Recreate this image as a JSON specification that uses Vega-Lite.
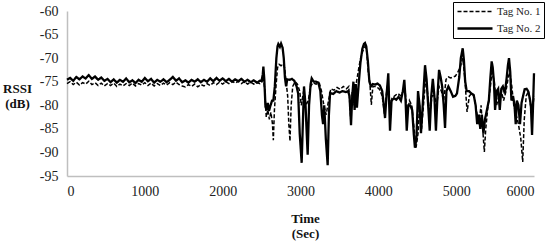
{
"$schema": "https://vega.github.io/schema/vega-lite/v6.json",
"width": 467, "height": 165,
"autosize": {"type": "none"},
"padding": {"left": 67, "top": 11, "right": 16, "bottom": 69},
"background": "white",
"config": {"view": {"stroke": null}, "font": "Liberation Serif",
 "axis": {"domainColor": "#bfbfbf", "domainWidth": 1.5, "ticks": false, "tickSize": 0, "grid": false, "labelFont": "Liberation Serif", "labelFontSize": 14, "labelColor": "#222222", "titleFont": "Liberation Serif", "titleFontSize": 13, "titleFontWeight": "bold", "titleColor": "#111111"}},
"data": {"values": [
{"t":0,"s":"Tag No. 2","v":-74.6},{"t":40,"s":"Tag No. 2","v":-74.2},{"t":80,"s":"Tag No. 2","v":-74.8},{"t":120,"s":"Tag No. 2","v":-74.0},{"t":160,"s":"Tag No. 2","v":-74.5},{"t":200,"s":"Tag No. 2","v":-73.9},{"t":240,"s":"Tag No. 2","v":-74.3},{"t":280,"s":"Tag No. 2","v":-73.6},{"t":320,"s":"Tag No. 2","v":-74.4},{"t":360,"s":"Tag No. 2","v":-73.9},{"t":400,"s":"Tag No. 2","v":-74.6},{"t":440,"s":"Tag No. 2","v":-74.1},{"t":480,"s":"Tag No. 2","v":-74.8},{"t":520,"s":"Tag No. 2","v":-74.4},{"t":560,"s":"Tag No. 2","v":-75.1},{"t":600,"s":"Tag No. 2","v":-74.5},{"t":640,"s":"Tag No. 2","v":-75.2},{"t":680,"s":"Tag No. 2","v":-74.6},{"t":720,"s":"Tag No. 2","v":-75.0},{"t":760,"s":"Tag No. 2","v":-74.3},{"t":800,"s":"Tag No. 2","v":-75.1},{"t":840,"s":"Tag No. 2","v":-74.7},{"t":880,"s":"Tag No. 2","v":-75.3},{"t":920,"s":"Tag No. 2","v":-74.6},{"t":960,"s":"Tag No. 2","v":-75.0},{"t":1000,"s":"Tag No. 2","v":-74.2},{"t":1040,"s":"Tag No. 2","v":-74.9},{"t":1080,"s":"Tag No. 2","v":-74.4},{"t":1120,"s":"Tag No. 2","v":-75.2},{"t":1160,"s":"Tag No. 2","v":-74.6},{"t":1200,"s":"Tag No. 2","v":-75.0},{"t":1240,"s":"Tag No. 2","v":-74.5},{"t":1280,"s":"Tag No. 2","v":-75.1},{"t":1320,"s":"Tag No. 2","v":-74.6},{"t":1360,"s":"Tag No. 2","v":-74.0},{"t":1400,"s":"Tag No. 2","v":-74.8},{"t":1440,"s":"Tag No. 2","v":-74.3},{"t":1480,"s":"Tag No. 2","v":-75.1},{"t":1520,"s":"Tag No. 2","v":-74.7},{"t":1560,"s":"Tag No. 2","v":-75.2},{"t":1600,"s":"Tag No. 2","v":-74.6},{"t":1640,"s":"Tag No. 2","v":-75.0},{"t":1680,"s":"Tag No. 2","v":-74.5},{"t":1720,"s":"Tag No. 2","v":-75.1},{"t":1760,"s":"Tag No. 2","v":-74.6},{"t":1800,"s":"Tag No. 2","v":-75.0},{"t":1840,"s":"Tag No. 2","v":-74.3},{"t":1880,"s":"Tag No. 2","v":-74.9},{"t":1920,"s":"Tag No. 2","v":-74.2},{"t":1960,"s":"Tag No. 2","v":-74.8},{"t":2000,"s":"Tag No. 2","v":-74.3},{"t":2040,"s":"Tag No. 2","v":-74.9},{"t":2080,"s":"Tag No. 2","v":-74.4},{"t":2120,"s":"Tag No. 2","v":-75.0},{"t":2160,"s":"Tag No. 2","v":-74.5},{"t":2200,"s":"Tag No. 2","v":-74.9},{"t":2240,"s":"Tag No. 2","v":-74.4},{"t":2280,"s":"Tag No. 2","v":-75.0},{"t":2320,"s":"Tag No. 2","v":-74.6},{"t":2360,"s":"Tag No. 2","v":-75.1},{"t":2400,"s":"Tag No. 2","v":-74.7},{"t":2440,"s":"Tag No. 2","v":-75.2},{"t":2480,"s":"Tag No. 2","v":-74.8},
{"t":2500,"s":"Tag No. 2","v":-74.8},{"t":2515,"s":"Tag No. 2","v":-73.5},{"t":2523,"s":"Tag No. 2","v":-71.8},{"t":2535,"s":"Tag No. 2","v":-74.5},{"t":2550,"s":"Tag No. 2","v":-80.3},{"t":2565,"s":"Tag No. 2","v":-81.0},{"t":2580,"s":"Tag No. 2","v":-79.5},{"t":2595,"s":"Tag No. 2","v":-81.2},{"t":2615,"s":"Tag No. 2","v":-80.0},{"t":2635,"s":"Tag No. 2","v":-79.0},{"t":2651,"s":"Tag No. 2","v":-79.0},{"t":2670,"s":"Tag No. 2","v":-76.0},{"t":2690,"s":"Tag No. 2","v":-70.0},{"t":2705,"s":"Tag No. 2","v":-67.5},{"t":2715,"s":"Tag No. 2","v":-67.0},{"t":2735,"s":"Tag No. 2","v":-67.6},{"t":2750,"s":"Tag No. 2","v":-66.9},{"t":2770,"s":"Tag No. 2","v":-67.8},{"t":2785,"s":"Tag No. 2","v":-70.0},{"t":2800,"s":"Tag No. 2","v":-74.1},{"t":2815,"s":"Tag No. 2","v":-76.0},{"t":2830,"s":"Tag No. 2","v":-74.5},{"t":2860,"s":"Tag No. 2","v":-74.6},{"t":2890,"s":"Tag No. 2","v":-74.4},{"t":2920,"s":"Tag No. 2","v":-74.8},{"t":2950,"s":"Tag No. 2","v":-76.0},{"t":2970,"s":"Tag No. 2","v":-77.5},{"t":2990,"s":"Tag No. 2","v":-86.0},{"t":3015,"s":"Tag No. 2","v":-92.2},{"t":3030,"s":"Tag No. 2","v":-84.0},{"t":3045,"s":"Tag No. 2","v":-76.0},{"t":3065,"s":"Tag No. 2","v":-80.0},{"t":3080,"s":"Tag No. 2","v":-86.0},{"t":3092,"s":"Tag No. 2","v":-90.5},{"t":3110,"s":"Tag No. 2","v":-80.0},{"t":3130,"s":"Tag No. 2","v":-75.5},{"t":3144,"s":"Tag No. 2","v":-74.3},{"t":3170,"s":"Tag No. 2","v":-75.0},{"t":3200,"s":"Tag No. 2","v":-75.0},{"t":3230,"s":"Tag No. 2","v":-75.2},{"t":3255,"s":"Tag No. 2","v":-77.0},{"t":3275,"s":"Tag No. 2","v":-82.0},{"t":3290,"s":"Tag No. 2","v":-84.0},{"t":3305,"s":"Tag No. 2","v":-80.0},{"t":3325,"s":"Tag No. 2","v":-87.0},{"t":3349,"s":"Tag No. 2","v":-92.7},{"t":3365,"s":"Tag No. 2","v":-82.0},{"t":3380,"s":"Tag No. 2","v":-77.4},{"t":3420,"s":"Tag No. 2","v":-77.6},{"t":3460,"s":"Tag No. 2","v":-77.0},{"t":3500,"s":"Tag No. 2","v":-77.3},{"t":3540,"s":"Tag No. 2","v":-77.0},{"t":3580,"s":"Tag No. 2","v":-77.2},{"t":3610,"s":"Tag No. 2","v":-77.0},{"t":3630,"s":"Tag No. 2","v":-78.0},{"t":3649,"s":"Tag No. 2","v":-84.2},{"t":3665,"s":"Tag No. 2","v":-78.0},{"t":3680,"s":"Tag No. 2","v":-75.0},{"t":3695,"s":"Tag No. 2","v":-81.0},{"t":3710,"s":"Tag No. 2","v":-75.5},{"t":3725,"s":"Tag No. 2","v":-80.5},{"t":3745,"s":"Tag No. 2","v":-76.0},{"t":3770,"s":"Tag No. 2","v":-71.0},{"t":3795,"s":"Tag No. 2","v":-68.0},{"t":3815,"s":"Tag No. 2","v":-67.0},{"t":3829,"s":"Tag No. 2","v":-66.8},{"t":3845,"s":"Tag No. 2","v":-67.5},{"t":3865,"s":"Tag No. 2","v":-70.5},{"t":3885,"s":"Tag No. 2","v":-75.0},{"t":3905,"s":"Tag No. 2","v":-76.0},{"t":3930,"s":"Tag No. 2","v":-75.5},{"t":3960,"s":"Tag No. 2","v":-75.6},{"t":3990,"s":"Tag No. 2","v":-75.4},{"t":4020,"s":"Tag No. 2","v":-75.8},{"t":4050,"s":"Tag No. 2","v":-77.0},{"t":4070,"s":"Tag No. 2","v":-80.0},{"t":4086,"s":"Tag No. 2","v":-82.7},{"t":4105,"s":"Tag No. 2","v":-78.0},{"t":4128,"s":"Tag No. 2","v":-73.2},{"t":4140,"s":"Tag No. 2","v":-80.0},{"t":4150,"s":"Tag No. 2","v":-85.4},{"t":4170,"s":"Tag No. 2","v":-79.0},{"t":4200,"s":"Tag No. 2","v":-78.5},{"t":4230,"s":"Tag No. 2","v":-78.8},{"t":4260,"s":"Tag No. 2","v":-78.2},{"t":4290,"s":"Tag No. 2","v":-79.0},{"t":4315,"s":"Tag No. 2","v":-77.0},{"t":4334,"s":"Tag No. 2","v":-74.6},{"t":4350,"s":"Tag No. 2","v":-79.0},{"t":4365,"s":"Tag No. 2","v":-85.4},{"t":4385,"s":"Tag No. 2","v":-80.0},{"t":4410,"s":"Tag No. 2","v":-80.0},{"t":4435,"s":"Tag No. 2","v":-81.0},{"t":4455,"s":"Tag No. 2","v":-86.0},{"t":4470,"s":"Tag No. 2","v":-89.0},{"t":4490,"s":"Tag No. 2","v":-87.0},{"t":4510,"s":"Tag No. 2","v":-77.0},{"t":4530,"s":"Tag No. 2","v":-80.0},{"t":4548,"s":"Tag No. 2","v":-85.9},{"t":4570,"s":"Tag No. 2","v":-80.0},{"t":4600,"s":"Tag No. 2","v":-71.5},{"t":4620,"s":"Tag No. 2","v":-74.5},{"t":4640,"s":"Tag No. 2","v":-80.0},{"t":4660,"s":"Tag No. 2","v":-85.4},{"t":4680,"s":"Tag No. 2","v":-78.0},{"t":4700,"s":"Tag No. 2","v":-74.4},{"t":4720,"s":"Tag No. 2","v":-78.0},{"t":4740,"s":"Tag No. 2","v":-85.4},{"t":4760,"s":"Tag No. 2","v":-78.0},{"t":4780,"s":"Tag No. 2","v":-72.5},{"t":4800,"s":"Tag No. 2","v":-74.0},{"t":4820,"s":"Tag No. 2","v":-76.0},{"t":4840,"s":"Tag No. 2","v":-80.0},{"t":4857,"s":"Tag No. 2","v":-84.8},{"t":4875,"s":"Tag No. 2","v":-77.0},{"t":4900,"s":"Tag No. 2","v":-76.0},{"t":4930,"s":"Tag No. 2","v":-77.0},{"t":4960,"s":"Tag No. 2","v":-78.2},{"t":4990,"s":"Tag No. 2","v":-78.0},{"t":5010,"s":"Tag No. 2","v":-77.5},{"t":5040,"s":"Tag No. 2","v":-74.0},{"t":5060,"s":"Tag No. 2","v":-70.0},{"t":5084,"s":"Tag No. 2","v":-67.9},{"t":5100,"s":"Tag No. 2","v":-70.5},{"t":5115,"s":"Tag No. 2","v":-74.8},{"t":5135,"s":"Tag No. 2","v":-77.0},{"t":5165,"s":"Tag No. 2","v":-77.0},{"t":5195,"s":"Tag No. 2","v":-77.5},{"t":5225,"s":"Tag No. 2","v":-77.8},{"t":5250,"s":"Tag No. 2","v":-80.0},{"t":5270,"s":"Tag No. 2","v":-84.0},{"t":5290,"s":"Tag No. 2","v":-82.0},{"t":5310,"s":"Tag No. 2","v":-85.0},{"t":5330,"s":"Tag No. 2","v":-82.0},{"t":5350,"s":"Tag No. 2","v":-86.0},{"t":5370,"s":"Tag No. 2","v":-83.0},{"t":5395,"s":"Tag No. 2","v":-81.0},{"t":5420,"s":"Tag No. 2","v":-79.0},{"t":5440,"s":"Tag No. 2","v":-74.0},{"t":5456,"s":"Tag No. 2","v":-70.7},{"t":5470,"s":"Tag No. 2","v":-72.0},{"t":5485,"s":"Tag No. 2","v":-75.0},{"t":5500,"s":"Tag No. 2","v":-81.0},{"t":5520,"s":"Tag No. 2","v":-77.0},{"t":5540,"s":"Tag No. 2","v":-76.5},{"t":5560,"s":"Tag No. 2","v":-81.0},{"t":5580,"s":"Tag No. 2","v":-76.5},{"t":5600,"s":"Tag No. 2","v":-76.0},{"t":5625,"s":"Tag No. 2","v":-77.5},{"t":5650,"s":"Tag No. 2","v":-74.0},{"t":5665,"s":"Tag No. 2","v":-71.5},{"t":5679,"s":"Tag No. 2","v":-70.0},{"t":5695,"s":"Tag No. 2","v":-73.0},{"t":5710,"s":"Tag No. 2","v":-79.0},{"t":5730,"s":"Tag No. 2","v":-78.0},{"t":5750,"s":"Tag No. 2","v":-80.0},{"t":5765,"s":"Tag No. 2","v":-84.0},{"t":5780,"s":"Tag No. 2","v":-79.0},{"t":5800,"s":"Tag No. 2","v":-80.0},{"t":5820,"s":"Tag No. 2","v":-84.0},{"t":5840,"s":"Tag No. 2","v":-79.5},{"t":5860,"s":"Tag No. 2","v":-78.0},{"t":5880,"s":"Tag No. 2","v":-76.6},{"t":5905,"s":"Tag No. 2","v":-76.5},{"t":5925,"s":"Tag No. 2","v":-77.0},{"t":5945,"s":"Tag No. 2","v":-78.5},{"t":5960,"s":"Tag No. 2","v":-80.0},{"t":5975,"s":"Tag No. 2","v":-86.3},{"t":5988,"s":"Tag No. 2","v":-80.0},{"t":6000,"s":"Tag No. 2","v":-73.2},
{"t":0,"s":"Tag No. 1","v":-75.4},{"t":40,"s":"Tag No. 1","v":-75.0},{"t":80,"s":"Tag No. 1","v":-75.6},{"t":120,"s":"Tag No. 1","v":-75.1},{"t":160,"s":"Tag No. 1","v":-75.7},{"t":200,"s":"Tag No. 1","v":-75.2},{"t":240,"s":"Tag No. 1","v":-75.5},{"t":280,"s":"Tag No. 1","v":-74.9},{"t":320,"s":"Tag No. 1","v":-75.6},{"t":360,"s":"Tag No. 1","v":-75.2},{"t":400,"s":"Tag No. 1","v":-75.8},{"t":440,"s":"Tag No. 1","v":-75.3},{"t":480,"s":"Tag No. 1","v":-75.9},{"t":520,"s":"Tag No. 1","v":-75.4},{"t":560,"s":"Tag No. 1","v":-75.8},{"t":600,"s":"Tag No. 1","v":-75.3},{"t":640,"s":"Tag No. 1","v":-76.0},{"t":680,"s":"Tag No. 1","v":-75.5},{"t":720,"s":"Tag No. 1","v":-75.9},{"t":760,"s":"Tag No. 1","v":-75.4},{"t":800,"s":"Tag No. 1","v":-75.8},{"t":840,"s":"Tag No. 1","v":-75.3},{"t":880,"s":"Tag No. 1","v":-75.9},{"t":920,"s":"Tag No. 1","v":-75.4},{"t":960,"s":"Tag No. 1","v":-75.7},{"t":1000,"s":"Tag No. 1","v":-75.2},{"t":1040,"s":"Tag No. 1","v":-75.8},{"t":1080,"s":"Tag No. 1","v":-75.3},{"t":1120,"s":"Tag No. 1","v":-75.9},{"t":1160,"s":"Tag No. 1","v":-75.4},{"t":1200,"s":"Tag No. 1","v":-75.8},{"t":1240,"s":"Tag No. 1","v":-75.3},{"t":1280,"s":"Tag No. 1","v":-75.7},{"t":1320,"s":"Tag No. 1","v":-75.2},{"t":1360,"s":"Tag No. 1","v":-75.6},{"t":1400,"s":"Tag No. 1","v":-75.1},{"t":1440,"s":"Tag No. 1","v":-75.6},{"t":1480,"s":"Tag No. 1","v":-75.9},{"t":1520,"s":"Tag No. 1","v":-76.1},{"t":1560,"s":"Tag No. 1","v":-75.6},{"t":1600,"s":"Tag No. 1","v":-76.0},{"t":1640,"s":"Tag No. 1","v":-75.5},{"t":1680,"s":"Tag No. 1","v":-76.1},{"t":1720,"s":"Tag No. 1","v":-75.6},{"t":1760,"s":"Tag No. 1","v":-75.9},{"t":1800,"s":"Tag No. 1","v":-75.4},{"t":1840,"s":"Tag No. 1","v":-75.8},{"t":1880,"s":"Tag No. 1","v":-75.2},{"t":1920,"s":"Tag No. 1","v":-75.6},{"t":1960,"s":"Tag No. 1","v":-75.1},{"t":2000,"s":"Tag No. 1","v":-75.5},{"t":2040,"s":"Tag No. 1","v":-75.0},{"t":2080,"s":"Tag No. 1","v":-75.4},{"t":2120,"s":"Tag No. 1","v":-74.9},{"t":2160,"s":"Tag No. 1","v":-75.3},{"t":2200,"s":"Tag No. 1","v":-74.9},{"t":2240,"s":"Tag No. 1","v":-75.4},{"t":2280,"s":"Tag No. 1","v":-75.0},{"t":2320,"s":"Tag No. 1","v":-75.5},{"t":2360,"s":"Tag No. 1","v":-75.1},{"t":2400,"s":"Tag No. 1","v":-75.5},{"t":2440,"s":"Tag No. 1","v":-75.2},{"t":2480,"s":"Tag No. 1","v":-75.4},
{"t":2500,"s":"Tag No. 1","v":-75.3},{"t":2520,"s":"Tag No. 1","v":-74.0},{"t":2540,"s":"Tag No. 1","v":-76.5},{"t":2560,"s":"Tag No. 1","v":-82.5},{"t":2580,"s":"Tag No. 1","v":-81.0},{"t":2600,"s":"Tag No. 1","v":-83.0},{"t":2620,"s":"Tag No. 1","v":-81.5},{"t":2640,"s":"Tag No. 1","v":-84.0},{"t":2651,"s":"Tag No. 1","v":-87.4},{"t":2665,"s":"Tag No. 1","v":-81.0},{"t":2685,"s":"Tag No. 1","v":-76.0},{"t":2705,"s":"Tag No. 1","v":-72.0},{"t":2725,"s":"Tag No. 1","v":-71.3},{"t":2750,"s":"Tag No. 1","v":-71.6},{"t":2775,"s":"Tag No. 1","v":-71.2},{"t":2795,"s":"Tag No. 1","v":-72.0},{"t":2815,"s":"Tag No. 1","v":-75.0},{"t":2835,"s":"Tag No. 1","v":-78.0},{"t":2850,"s":"Tag No. 1","v":-84.0},{"t":2865,"s":"Tag No. 1","v":-87.6},{"t":2880,"s":"Tag No. 1","v":-80.0},{"t":2900,"s":"Tag No. 1","v":-76.0},{"t":2930,"s":"Tag No. 1","v":-75.0},{"t":2960,"s":"Tag No. 1","v":-75.5},{"t":2990,"s":"Tag No. 1","v":-77.0},{"t":3010,"s":"Tag No. 1","v":-80.0},{"t":3040,"s":"Tag No. 1","v":-77.0},{"t":3070,"s":"Tag No. 1","v":-80.0},{"t":3100,"s":"Tag No. 1","v":-79.0},{"t":3130,"s":"Tag No. 1","v":-76.0},{"t":3160,"s":"Tag No. 1","v":-75.2},{"t":3200,"s":"Tag No. 1","v":-75.5},{"t":3240,"s":"Tag No. 1","v":-75.2},{"t":3270,"s":"Tag No. 1","v":-77.0},{"t":3300,"s":"Tag No. 1","v":-80.0},{"t":3330,"s":"Tag No. 1","v":-82.0},{"t":3360,"s":"Tag No. 1","v":-79.0},{"t":3390,"s":"Tag No. 1","v":-76.5},{"t":3430,"s":"Tag No. 1","v":-76.8},{"t":3470,"s":"Tag No. 1","v":-76.2},{"t":3510,"s":"Tag No. 1","v":-76.6},{"t":3550,"s":"Tag No. 1","v":-76.0},{"t":3590,"s":"Tag No. 1","v":-76.5},{"t":3620,"s":"Tag No. 1","v":-76.0},{"t":3645,"s":"Tag No. 1","v":-83.0},{"t":3665,"s":"Tag No. 1","v":-77.0},{"t":3690,"s":"Tag No. 1","v":-80.0},{"t":3720,"s":"Tag No. 1","v":-75.0},{"t":3750,"s":"Tag No. 1","v":-72.0},{"t":3770,"s":"Tag No. 1","v":-70.2},{"t":3800,"s":"Tag No. 1","v":-68.5},{"t":3830,"s":"Tag No. 1","v":-67.5},{"t":3850,"s":"Tag No. 1","v":-68.5},{"t":3870,"s":"Tag No. 1","v":-73.0},{"t":3890,"s":"Tag No. 1","v":-75.0},{"t":3910,"s":"Tag No. 1","v":-79.9},{"t":3930,"s":"Tag No. 1","v":-76.0},{"t":3970,"s":"Tag No. 1","v":-76.0},{"t":4010,"s":"Tag No. 1","v":-76.5},{"t":4050,"s":"Tag No. 1","v":-78.0},{"t":4080,"s":"Tag No. 1","v":-82.0},{"t":4100,"s":"Tag No. 1","v":-78.0},{"t":4125,"s":"Tag No. 1","v":-75.0},{"t":4150,"s":"Tag No. 1","v":-82.0},{"t":4175,"s":"Tag No. 1","v":-78.5},{"t":4210,"s":"Tag No. 1","v":-78.0},{"t":4250,"s":"Tag No. 1","v":-77.5},{"t":4290,"s":"Tag No. 1","v":-78.0},{"t":4320,"s":"Tag No. 1","v":-77.0},{"t":4345,"s":"Tag No. 1","v":-77.0},{"t":4370,"s":"Tag No. 1","v":-82.0},{"t":4400,"s":"Tag No. 1","v":-79.0},{"t":4430,"s":"Tag No. 1","v":-80.0},{"t":4460,"s":"Tag No. 1","v":-85.0},{"t":4484,"s":"Tag No. 1","v":-89.0},{"t":4510,"s":"Tag No. 1","v":-86.0},{"t":4530,"s":"Tag No. 1","v":-80.0},{"t":4555,"s":"Tag No. 1","v":-85.0},{"t":4580,"s":"Tag No. 1","v":-80.0},{"t":4610,"s":"Tag No. 1","v":-74.0},{"t":4630,"s":"Tag No. 1","v":-77.0},{"t":4660,"s":"Tag No. 1","v":-82.0},{"t":4690,"s":"Tag No. 1","v":-78.0},{"t":4720,"s":"Tag No. 1","v":-78.0},{"t":4750,"s":"Tag No. 1","v":-80.0},{"t":4780,"s":"Tag No. 1","v":-76.0},{"t":4810,"s":"Tag No. 1","v":-77.0},{"t":4840,"s":"Tag No. 1","v":-79.0},{"t":4870,"s":"Tag No. 1","v":-74.5},{"t":4900,"s":"Tag No. 1","v":-74.0},{"t":4930,"s":"Tag No. 1","v":-74.2},{"t":4960,"s":"Tag No. 1","v":-74.0},{"t":4990,"s":"Tag No. 1","v":-73.8},{"t":5020,"s":"Tag No. 1","v":-73.0},{"t":5050,"s":"Tag No. 1","v":-72.0},{"t":5085,"s":"Tag No. 1","v":-70.0},{"t":5110,"s":"Tag No. 1","v":-74.0},{"t":5140,"s":"Tag No. 1","v":-81.4},{"t":5170,"s":"Tag No. 1","v":-78.0},{"t":5200,"s":"Tag No. 1","v":-77.5},{"t":5230,"s":"Tag No. 1","v":-78.0},{"t":5260,"s":"Tag No. 1","v":-81.0},{"t":5290,"s":"Tag No. 1","v":-84.0},{"t":5320,"s":"Tag No. 1","v":-80.0},{"t":5345,"s":"Tag No. 1","v":-86.0},{"t":5362,"s":"Tag No. 1","v":-89.9},{"t":5380,"s":"Tag No. 1","v":-85.0},{"t":5410,"s":"Tag No. 1","v":-80.0},{"t":5440,"s":"Tag No. 1","v":-76.0},{"t":5460,"s":"Tag No. 1","v":-73.0},{"t":5490,"s":"Tag No. 1","v":-75.0},{"t":5520,"s":"Tag No. 1","v":-80.0},{"t":5550,"s":"Tag No. 1","v":-78.0},{"t":5580,"s":"Tag No. 1","v":-77.0},{"t":5610,"s":"Tag No. 1","v":-79.0},{"t":5640,"s":"Tag No. 1","v":-77.0},{"t":5670,"s":"Tag No. 1","v":-74.0},{"t":5690,"s":"Tag No. 1","v":-73.0},{"t":5715,"s":"Tag No. 1","v":-76.0},{"t":5740,"s":"Tag No. 1","v":-80.0},{"t":5770,"s":"Tag No. 1","v":-82.0},{"t":5800,"s":"Tag No. 1","v":-84.0},{"t":5830,"s":"Tag No. 1","v":-87.0},{"t":5855,"s":"Tag No. 1","v":-92.0},{"t":5875,"s":"Tag No. 1","v":-83.0},{"t":5900,"s":"Tag No. 1","v":-78.0},{"t":5930,"s":"Tag No. 1","v":-77.0},{"t":5955,"s":"Tag No. 1","v":-80.0},{"t":5975,"s":"Tag No. 1","v":-82.0},{"t":6000,"s":"Tag No. 1","v":-78.0}
]},
"mark": {"type": "line", "color": "black", "strokeJoin": "miter"},
"encoding": {
 "x": {"field": "t", "type": "quantitative", "scale": {"domain": [0, 6000], "nice": false},
  "axis": {"values": [0, 1000, 2000, 3000, 4000, 5000, 6000], "labelExpr": "datum.value + ''", "title": ["Time", "(Sec)"], "labelPadding": 8, "titleAngle": 0, "titleAlign": "center", "titleBaseline": "top", "titleX": 238, "titleY": 36, "titleLineHeight": 15}},
 "y": {"field": "v", "type": "quantitative", "scale": {"domain": [-95, -60], "nice": false, "zero": false},
  "axis": {"values": [-95, -90, -85, -80, -75, -70, -65, -60], "labelExpr": "datum.value + ''", "title": ["RSSI", "(dB)"], "labelPadding": 9, "titleAngle": 0, "titleAlign": "center", "titleBaseline": "top", "titleX": -50, "titleY": 71, "titleLineHeight": 15}},
 "strokeDash": {"field": "s", "type": "nominal", "scale": {"domain": ["Tag No. 1", "Tag No. 2"], "range": [[4, 2], [1, 0]]},
  "legend": {"orient": "none", "legendX": 386, "legendY": -9, "title": null, "strokeColor": "black", "fillColor": "white", "padding": 3, "symbolType": "stroke", "symbolSize": 1225, "clipHeight": 13, "rowPadding": 4, "labelFontSize": 11, "labelFont": "Liberation Serif", "labelColor": "#222222", "symbolStrokeColor": "black", "labelOffset": 3}},
 "strokeWidth": {"field": "s", "type": "nominal", "scale": {"domain": ["Tag No. 1", "Tag No. 2"], "range": [1.5, 2.3]},
  "legend": {"orient": "none", "legendX": 386, "legendY": -9, "title": null, "strokeColor": "black", "fillColor": "white", "padding": 3, "symbolType": "stroke", "symbolSize": 1225, "clipHeight": 13, "rowPadding": 4, "labelFontSize": 11, "labelFont": "Liberation Serif", "labelColor": "#222222", "symbolStrokeColor": "black", "labelOffset": 3}}
}
}
